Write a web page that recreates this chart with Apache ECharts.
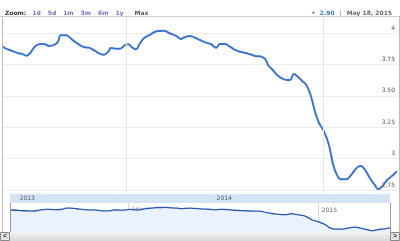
<!DOCTYPE html>
<html><head><meta charset="utf-8">
<script src="https://cdn.jsdelivr.net/npm/echarts@6/dist/echarts.min.js"></script>
<style>html,body{margin:0;padding:0;background:#fff}#c{width:400px;height:241px}</style>
</head><body><div id="c"></div>
<script>
const dates = ['2013-05-18','2013-05-22','2013-06-04','2013-06-15','2013-06-22','2013-06-30','2013-07-07','2013-07-16','2013-07-26','2013-08-04','2013-08-11','2013-08-22','2013-08-28','2013-09-02','2013-09-12','2013-09-19','2013-09-28','2013-10-08','2013-10-17','2013-10-24','2013-11-04','2013-11-14','2013-11-21','2013-11-29','2013-12-04','2013-12-13','2013-12-21','2013-12-30','2014-01-05','2014-01-12','2014-01-19','2014-01-27','2014-02-03','2014-02-14','2014-02-24','2014-03-05','2014-03-12','2014-03-23','2014-04-04','2014-04-13','2014-04-18','2014-04-28','2014-05-07','2014-05-18','2014-05-29','2014-06-07','2014-06-17','2014-06-24','2014-07-03','2014-07-11','2014-07-22','2014-07-31','2014-08-09','2014-08-19','2014-08-28','2014-09-06','2014-09-16','2014-09-21','2014-09-30','2014-10-08','2014-10-17','2014-10-26','2014-11-01','2014-11-08','2014-11-14','2014-11-25','2014-12-01','2014-12-08','2014-12-14','2014-12-19','2014-12-25','2015-01-03','2015-01-12','2015-01-20','2015-01-27','2015-02-03','2015-02-13','2015-02-22','2015-03-01','2015-03-07','2015-03-12','2015-03-20','2015-03-29','2015-04-07','2015-04-13','2015-04-20','2015-04-30','2015-05-11','2015-05-18'];
const values = [3.893,3.878,3.857,3.838,3.835,3.819,3.838,3.891,3.912,3.910,3.896,3.907,3.931,3.982,3.982,3.963,3.931,3.902,3.886,3.883,3.859,3.833,3.827,3.851,3.881,3.875,3.875,3.904,3.910,3.886,3.870,3.918,3.958,3.984,4.010,4.016,4.018,3.998,3.976,3.952,3.963,3.976,3.966,3.944,3.923,3.912,3.883,3.912,3.912,3.896,3.865,3.851,3.843,3.830,3.817,3.814,3.793,3.745,3.705,3.666,3.639,3.626,3.626,3.674,3.658,3.612,3.586,3.520,3.427,3.347,3.281,3.214,3.108,2.949,2.869,2.835,2.835,2.869,2.909,2.935,2.941,2.909,2.843,2.790,2.756,2.776,2.830,2.869,2.900];
const yTicks = [2.75, 3, 3.25, 3.5, 3.75, 4];
const yearStarts = ['2014-01-01', '2015-01-01'];
const yearMids = ['2013-07-02', '2014-07-02'];
const zoomLinks = ['1d', '5d', '1m', '3m', '6m', '1y'];
const lastValue = '2.90';
const lastDate = 'May 18, 2015';
const rangeStart = '2013-05-18', rangeEnd = '2015-05-20', navEnd = '2015-05-18';

function ts(s){ const p = s.split('-').map(Number); return new Date(p[0], p[1]-1, p[2]).getTime(); }
const seriesData = dates.map((d, i) => [ts(d), values[i]]);
const yearOf = v => String(new Date(v + 43200000).getFullYear());
const fmtY = v => (v % 1 === 0 ? String(v) : v.toFixed(2));
const FONT = 'DejaVu Sans';

const chart = echarts.init(document.getElementById('c'), null, {renderer: 'canvas'});
const staticGraphics = [
    { type: 'line', shape: { x1: 0, y1: 16.5, x2: 400, y2: 16.5 }, style: { stroke: '#cfcfcf', lineWidth: 1 }, z: 10 },
    { type: 'line', shape: { x1: 2.5, y1: 16, x2: 2.5, y2: 232 }, style: { stroke: '#bdbdbd', lineWidth: 1 }, z: 10 },
    { type: 'line', shape: { x1: 399.5, y1: 16, x2: 399.5, y2: 232 }, style: { stroke: '#bdbdbd', lineWidth: 1 }, z: 10 },
    { type: 'line', shape: { x1: 10.5, y1: 203, x2: 10.5, y2: 232 }, style: { stroke: '#999', lineWidth: 1 }, z: 10 },
    { type: 'line', shape: { x1: 390.5, y1: 203, x2: 390.5, y2: 232 }, style: { stroke: '#999', lineWidth: 1 }, z: 10 },
    { type: 'rect', shape: { x: 0, y: 232, width: 400, height: 9 },
      style: { fill: new echarts.graphic.LinearGradient(0, 0, 0, 1, [{ offset: 0, color: '#f2f2f2' }, { offset: 1, color: '#d9d9d9' }]) }, z: 10 },
    { type: 'rect', shape: { x: 0.5, y: 232.5, width: 9, height: 8 }, style: { fill: '#e6e6e6', stroke: '#8a8a8a', lineWidth: 1 }, z: 11 },
    { type: 'rect', shape: { x: 390.5, y: 232.5, width: 9, height: 8 }, style: { fill: '#e6e6e6', stroke: '#8a8a8a', lineWidth: 1 }, z: 11 },
    { type: 'text', x: 5, y: 236.5, style: { text: '<', fontSize: 7, fontWeight: 'bold', fill: '#333', align: 'center', verticalAlign: 'middle' }, z: 12 },
    { type: 'text', x: 395, y: 236.5, style: { text: '>', fontSize: 7, fontWeight: 'bold', fill: '#333', align: 'center', verticalAlign: 'middle' }, z: 12 }
];
chart.setOption({
  animation: false,
  backgroundColor: '#fff',
  title: [
    { left: 5, top: 4, padding: 0,
      text: '{b|Zoom:} ' + zoomLinks.map(l => '{l|' + l + '}').join(' ') + '  {m|Max}',
      textStyle: { rich: {
        b: { fontFamily: FONT, fontSize: 6, fontWeight: 'bold', color: '#333' },
        l: { fontFamily: FONT, fontSize: 6, color: '#6a74c8', padding: [0, 1] },
        m: { fontFamily: FONT, fontSize: 6, color: '#555' } } } },
    { right: 8, top: 4, padding: 0,
      text: '{d|●} {v|' + lastValue + '} {s||} {g|' + lastDate + '}',
      textStyle: { rich: {
        d: { fontSize: 5, color: '#3b74d6' },
        v: { fontFamily: FONT, fontSize: 6, fontWeight: 'bold', color: '#3b74d6' },
        s: { fontFamily: FONT, fontSize: 6, color: '#999' },
        g: { fontFamily: FONT, fontSize: 6, color: '#666' } } } }
  ],
  grid: [
    { left: 3, width: 395, top: 17, height: 176 },
    { left: 10, width: 380, top: 203, height: 29 }
  ],
  xAxis: [
    { type: 'value', gridIndex: 0, min: ts(rangeStart), max: ts(rangeEnd), z: 5,
      axisLine: { show: false },
      axisTick: { show: false, customValues: yearStarts.map(ts) },
      splitLine: { show: true, lineStyle: { color: '#e6e6e6', width: 1 } },
      axisLabel: { customValues: yearMids.map(ts), formatter: yearOf, showMinLabel: true, showMaxLabel: true,
        fontFamily: FONT, fontSize: 6, color: '#555', margin: 2, hideOverlap: false } },
    { type: 'value', gridIndex: 1, min: ts(rangeStart), max: ts(navEnd), position: 'top', offset: 4.5, z: 1,
      axisLine: { show: true, lineStyle: { color: '#d4e4f7', width: 9, cap: 'butt' } },
      axisTick: { show: false, customValues: yearStarts.map(ts) },
      splitLine: { show: true, lineStyle: { color: '#cfd8e3', width: 1 } },
      axisLabel: { inside: true, customValues: yearStarts.map(ts), formatter: yearOf,
        align: 'left', padding: [0, 0, 0, 3], margin: 9, fontFamily: FONT, fontSize: 6, color: '#666' } }
  ],
  yAxis: [
    { type: 'value', gridIndex: 0, position: 'right', min: 2.726, max: 4.127,
      axisLine: { show: false },
      axisTick: { show: false, customValues: yTicks },
      splitLine: { show: true, lineStyle: { color: '#ededed', width: 1 } },
      axisLabel: { show: false } },
    { type: 'value', gridIndex: 1, min: 2.68, max: 4.26, show: false }
  ],
  series: [
    { type: 'line', xAxisIndex: 0, yAxisIndex: 0, data: seriesData, smooth: 0.4,
      showSymbol: false, lineStyle: { color: '#3b74d6', width: 2 }, z: 3 },
    { type: 'line', xAxisIndex: 1, yAxisIndex: 1, data: seriesData, smooth: 0.4,
      showSymbol: false, lineStyle: { color: '#2456b0', width: 1.3 },
      areaStyle: { color: '#eaf3fd', opacity: 1, origin: 'start' } }
  ],
  graphic: staticGraphics
});
// y-axis tick labels placed through the axis scale
const xRight = chart.convertToPixel({ xAxisIndex: 0 }, ts(rangeEnd));
const yLabelGraphics = yTicks.map(v => ({
  type: 'text', z: 20,
  x: xRight - 3, y: chart.convertToPixel({ yAxisIndex: 0 }, v) - 2,
  style: { text: fmtY(v), fontFamily: FONT, fontSize: 6, fill: '#555', align: 'right', verticalAlign: 'bottom' }
}));
chart.setOption({ graphic: staticGraphics.concat(yLabelGraphics) });
</script></body></html>
